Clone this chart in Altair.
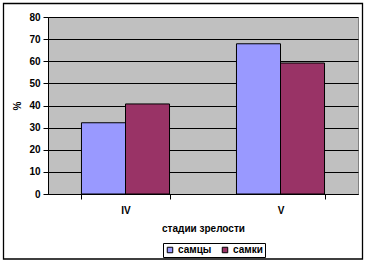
import altair as alt
import pandas as pd

stages = ["IV", "V"]
series = ["самцы", "самки"]
males = [32.2, 67.9]
females = [40.7, 59.2]
colors = ["#9999FF", "#993366"]
y_ticks = [0, 10, 20, 30, 40, 50, 60, 70, 80]

rows = []
for i, s in enumerate(stages):
    rows.append({"stage": s, "sex": series[0], "value": males[i]})
    rows.append({"stage": s, "sex": series[1], "value": females[i]})
df = pd.DataFrame(rows)

FONT = "Liberation Sans"

bars = alt.Chart(df).mark_bar(stroke="black", strokeWidth=1).encode(
    x=alt.X("stage:N", sort=stages,
            scale=alt.Scale(paddingInner=0.432, paddingOuter=0.216),
            axis=alt.Axis(title="стадии зрелости", labelAngle=0, tickBand="extent",
                          tickSize=5, tickColor="black", domainColor="black",
                          labelPadding=6, titlePadding=8,
                          labelFont=FONT, labelFontSize=10, labelFontWeight="bold",
                          titleFont=FONT, titleFontSize=10, titleFontWeight="bold",
                          labelColor="black", titleColor="black")),
    xOffset=alt.XOffset("sex:N", sort=series, scale=alt.Scale(paddingInner=0, paddingOuter=0)),
    y=alt.Y("value:Q", scale=alt.Scale(domain=[0, 80], nice=False),
            axis=alt.Axis(title="%", values=y_ticks, grid=True, gridColor="black",
                          gridOpacity=1, gridWidth=1, tickSize=5, tickColor="black",
                          domainColor="black", labelPadding=3, titlePadding=6,
                          labelFont=FONT, labelFontSize=10, labelFontWeight="bold",
                          titleFont=FONT, titleFontSize=10, titleFontWeight="bold",
                          labelColor="black", titleColor="black")),
    color=alt.Color("sex:N", sort=series,
                    scale=alt.Scale(domain=series, range=colors),
                    legend=alt.Legend(title=None, orient="none", legendX=115, legendY=226,
                                      direction="horizontal", strokeColor="black",
                                      padding=2, symbolType="square", symbolSize=30,
                                      symbolStrokeColor="black", symbolStrokeWidth=1,
                                      labelFont=FONT, labelFontSize=10,
                                      labelFontWeight="bold", labelColor="black",
                                      columnPadding=8, labelOffset=3)),
)

border = alt.Chart(alt.Data(values=[{}])).mark_rect(
    fillOpacity=0, stroke="black", strokeWidth=1.3
).encode(
    x=alt.value(-44.5), x2=alt.value(314.5), y=alt.value(-13.5), y2=alt.value(242)
)

chart = alt.layer(bars, border).properties(
    width=310, height=177,
    autosize=alt.AutoSizeParams(type="none"),
    padding={"left": 48, "top": 17, "right": 8, "bottom": 68},
    background="white",
).configure_view(
    fill="#C0C0C0", stroke="#808080", strokeWidth=1
)

chart.save("out.html", embed_options={"renderer": "svg", "actions": False})
